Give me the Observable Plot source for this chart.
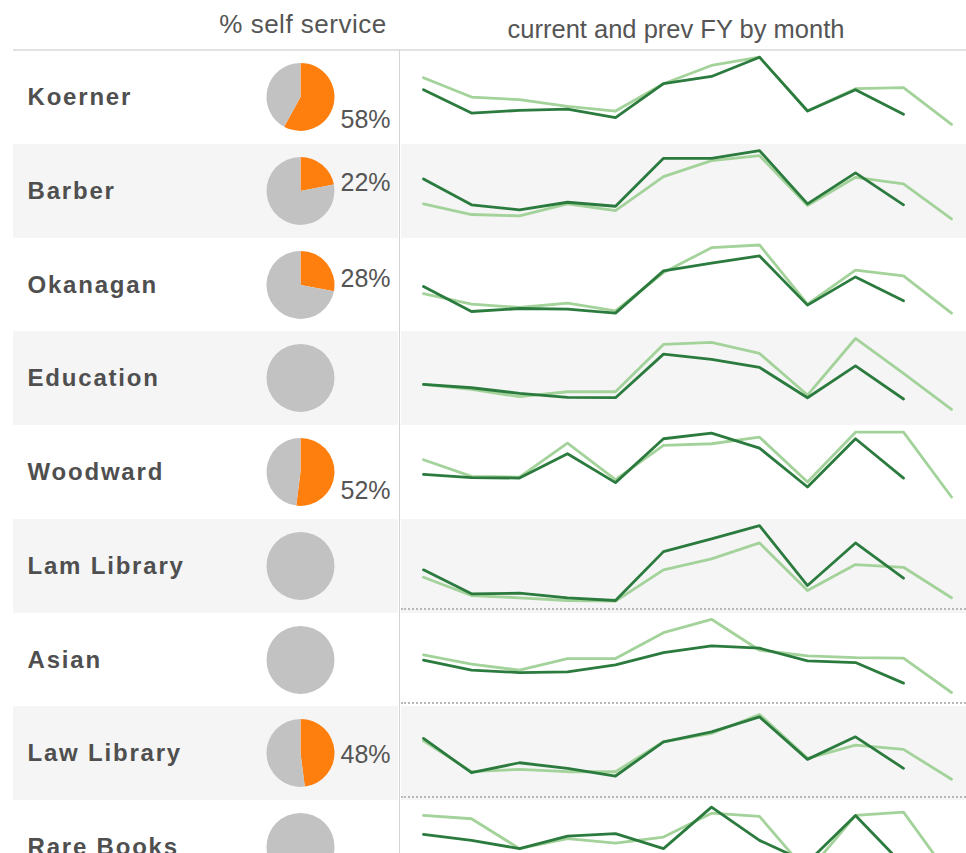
<!DOCTYPE html>
<html><head><meta charset="utf-8">
<script src="https://cdn.jsdelivr.net/npm/d3@7"></script>
<script src="https://cdn.jsdelivr.net/npm/@observablehq/plot@0.6"></script>
<style>
html,body{margin:0;padding:0;background:#fff;}
body{width:966px;height:853px;overflow:hidden;position:relative;font-family:"Liberation Sans",Arial,sans-serif;}
.abs{position:absolute;}
.hdr{position:absolute;color:#555;white-space:nowrap;text-align:center;line-height:1;}
svg{display:block;}
</style></head>
<body>
<script>
// ---------- data ----------
const libraries = ["Koerner","Barber","Okanagan","Education","Woodward","Lam Library","Asian","Law Library","Rare Books"];
const selfServicePct = [58,22,28,0,52,0,0,48,0];
const months = ["Apr","May","Jun","Jul","Aug","Sep","Oct","Nov","Dec","Jan","Feb","Mar"];
const headerLeft = "% self service";
const headerRight = "current and prev FY by month";
// monthly activity (relative units), current FY (11 months so far) and previous FY
const currentFY = [
  [547,313,340,353,267,607,680,873,333,547,300],
  [595,335,285,361,321,801,801,878,345,655,335],
  [458,208,238,232,192,615,692,765,272,555,315],
  [410,376,320,280,276,713,660,580,276,596,263],
  [450,417,413,657,367,807,863,713,323,807,413],
  [435,195,201,155,128,618,745,878,278,705,351],
  [472,372,348,355,425,548,615,592,465,448,242],
  [620,276,376,320,243,586,686,836,410,636,320],
  [600,540,457,583,607,457,873,540,320,790,290]
];
const prevFY = [
  [667,473,447,380,333,607,790,873,333,557,567,200],
  [345,238,225,345,278,618,778,828,328,611,545,195],
  [388,282,248,292,215,598,848,875,282,622,565,192],
  [410,360,286,336,336,810,830,720,303,870,520,160],
  [597,430,423,763,397,740,757,823,373,873,873,223],
  [361,178,155,128,121,435,545,705,228,488,461,155],
  [525,432,372,488,488,748,882,572,515,498,492,148],
  [596,286,310,286,286,586,670,860,420,553,510,210],
  [790,757,457,557,513,573,813,780,220,790,823,160]
];

// ---------- layout ----------
const FONT = "Liberation Sans, Arial, sans-serif";
const ROW_TOP = 50, ROW_H = 93.75;
const LEFT_X = 13, LEFT_W = 385, RIGHT_X = 401, RIGHT_W = 565;
const ORANGE = "#ff7f0e", GREY = "#c2c2c2";
const DARK = "#2b7a3e", LIGHT = "#a3d29a";

function addDiv(css, text) {
  const d = document.createElement("div");
  d.className = "abs";
  Object.assign(d.style, css);
  if (text != null) d.textContent = text;
  document.body.appendChild(d);
  return d;
}

function pieMark(pct, cxFromRight, r) {
  return (index, scales, values, dimensions) => {
    const g = d3.create("svg:g")
      .attr("transform", `translate(${dimensions.width - cxFromRight},${dimensions.height / 2})`);
    const arcs = d3.pie().sort(null).value(d => d.v)([
      {k: "self", v: pct}, {k: "other", v: 100 - pct}
    ]);
    g.selectAll("path").data(arcs).join("path")
      .attr("d", d3.arc().innerRadius(0).outerRadius(r))
      .attr("fill", d => d.data.k === "self" ? ORANGE : GREY);
    return g.node();
  };
}

function labelDy(pct) {
  const th = pct / 100 * Math.PI; // mid angle of slice (radians from 12 o'clock)
  const c = Math.cos(th);
  return (th > Math.PI / 2 ? 16 - 24 * c : 1 - 13 * c) + 1;
}

libraries.forEach((name, i) => {
  const top = ROW_TOP + i * ROW_H;
  const bg = i % 2 ? "#f5f5f5" : "#ffffff";
  const pct = selfServicePct[i];

  const left = addDiv({left: LEFT_X + "px", top: top + "px", width: LEFT_W + "px", height: ROW_H + "px", background: bg});
  const lp = Plot.plot({
    width: LEFT_W, height: ROW_H, margin: 0,
    style: {background: "transparent", fontFamily: FONT, overflow: "visible"},
    marks: [
      Plot.text([name], {frameAnchor: "left", dx: 14, text: d => d, fontSize: 24, fontWeight: "bold", fill: "#4f4f4f", textAnchor: "start", ariaLabel: "library"}),
      pieMark(pct, LEFT_W - 287.5, 34),
      Plot.text(pct > 0 ? [pct] : [], {frameAnchor: "left", dx: 327, dy: labelDy(pct), text: d => `${d}%`, fontSize: 25, fill: "#555", textAnchor: "start"})
    ]
  });
  const lab = lp.querySelector('g[aria-label="library"]') || lp.querySelector("text");
  if (lab) lab.setAttribute("letter-spacing", "1.8");
  left.appendChild(lp);

  const right = addDiv({left: RIGHT_X + "px", top: top + "px", width: RIGHT_W + "px", height: ROW_H + "px", background: bg});
  const cur = currentFY[i].map((v, j) => ({month: months[j], value: v, series: "current FY"}));
  const prev = prevFY[i].map((v, j) => ({month: months[j], value: v, series: "prev FY"}));
  const rp = Plot.plot({
    width: RIGHT_W, height: ROW_H,
    marginTop: 0, marginBottom: 0, marginLeft: 21, marginRight: 14,
    x: {type: "point", domain: months, padding: 0, axis: null},
    y: {domain: [0, 940], axis: null},
    style: {background: "transparent", overflow: "visible"},
    marks: [
      Plot.line(prev, {x: "month", y: "value", stroke: LIGHT, strokeWidth: 2.8}),
      Plot.line(cur, {x: "month", y: "value", stroke: DARK, strokeWidth: 2.8})
    ]
  });
  right.appendChild(rp);

  if (i >= 5 && i <= 7) {
    addDiv({left: RIGHT_X + "px", top: (top + ROW_H - 4.5) + "px", width: RIGHT_W + "px", height: "0px", borderTop: "2px dotted #b8b8b8"});
  }
});

// header
const h1 = document.createElement("div");
h1.className = "hdr"; h1.textContent = headerLeft;
Object.assign(h1.style, {left: "153px", width: "300px", top: "11px", fontSize: "26px", letterSpacing: "0.5px"});
document.body.appendChild(h1);
const h2 = document.createElement("div");
h2.className = "hdr"; h2.textContent = headerRight;
Object.assign(h2.style, {left: "476px", width: "400px", top: "17px", fontSize: "25.5px"});
document.body.appendChild(h2);

// rules
addDiv({left: LEFT_X + "px", top: "49px", width: (966 - LEFT_X) + "px", height: "2px", background: "#e2e2e2"});
addDiv({left: "399px", top: "50px", width: "1px", height: "803px", background: "#d4d4d4"});
</script>
</body></html>
